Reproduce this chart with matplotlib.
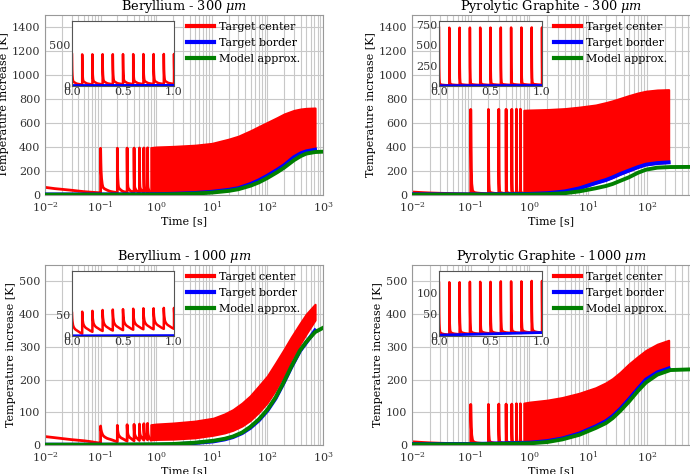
import numpy as np
import matplotlib
matplotlib.use("Agg")
import matplotlib.pyplot as plt
from matplotlib.lines import Line2D

plt.rcParams.update({
    "font.family": ["DejaVu Serif"],
    "mathtext.fontset": "dejavuserif",
})

# ------------------------------------------------------------------ data
titles = ["Beryllium - 300 $\\mu m$", "Pyrolytic Graphite - 300 $\\mu m$",
          "Beryllium - 1000 $\\mu m$", "Pyrolytic Graphite - 1000 $\\mu m$"]
legend_labels = ["Target center", "Target border", "Model approx."]
xlabel = "Time [s]"
ylabel = "Temperature increase [K]"

pulse_t = [0.0, 0.1, 0.2, 0.3, 0.4, 0.5, 0.6, 0.7, 0.8, 0.9, 1.0]
decay_dt = [0.0, 0.001, 0.002, 0.004, 0.007, 0.01, 0.015, 0.02, 0.03,
            0.04, 0.05, 0.065, 0.08, 0.0999]

# Beryllium 300 um
be300_peak = [388, 389, 390, 391, 391, 392, 392, 393, 393, 394, 394]
be300_floor = [18, 20, 21, 22, 23, 24, 24, 25, 25, 26, 26]
be300_decay = [1.0, 0.7, 0.5, 0.32, 0.19, 0.124, 0.095, 0.08, 0.058,
               0.04, 0.027, 0.016, 0.008, 0.0]
be300_band_t = [0.8, 1, 2, 5, 10, 20, 30, 50, 70, 100, 150, 200, 300, 400, 500, 720]
be300_band_hi = [395, 400, 405, 415, 430, 465, 490, 536, 570, 605, 645, 675, 705, 717, 722, 725]
be300_band_lo = [25, 26, 28, 32, 40, 55, 70, 105, 135, 175, 225, 262, 320, 356, 374, 392]
be300_border_t = [0.01, 0.1, 1, 2, 5, 10, 20, 30, 50, 70, 100, 150, 200, 300, 400, 500, 720]
be300_border = [5, 5, 7, 10, 17, 27, 43, 57, 92, 122, 161, 210, 248, 315, 348, 364, 378]
be300_model_t = [0.01, 0.1, 1, 2, 5, 10, 20, 30, 50, 70, 100, 150, 200, 300, 400, 500, 720, 1000]
be300_model = [3, 3, 4, 6, 12, 20, 34, 48, 78, 105, 142, 190, 228, 290, 325, 345, 358, 361]
be300_inset_border = [6, 8]

# Pyrolytic graphite 300 um
pg300_peak = [712, 713, 713, 714, 714, 714, 715, 715, 715, 716, 716]
pg300_floor = [8, 10, 11, 12, 12, 13, 13, 14, 14, 15, 15]
pg300_decay = [1.0, 0.55, 0.3, 0.12, 0.045, 0.024, 0.017, 0.013, 0.009,
               0.007, 0.005, 0.003, 0.0015, 0.0]
pg300_band_t = [0.8, 1, 2, 4, 7, 13.4, 20, 26, 35, 49, 70, 96, 150, 234]
pg300_band_hi = [706, 708, 712, 720, 732, 750, 770, 785, 805, 828, 850, 865, 875, 878]
pg300_band_lo = [8, 9, 15, 30, 55, 100, 125, 147, 175, 203, 232, 253, 266, 272]
pg300_border_t = [0.01, 0.1, 1, 2, 4, 7, 13.4, 20, 26, 35, 49, 70, 96, 150, 234]
pg300_border = [6, 5, 9, 15, 30, 55, 100, 125, 147, 175, 203, 232, 253, 266, 272]
pg300_model_t = [0.01, 0.1, 1, 2, 4, 7, 13.4, 20, 26, 35, 49, 70, 96, 150, 250, 540]
pg300_model = [3, 3, 4, 7, 15, 30, 56, 75, 92, 118, 147, 185, 211, 228, 233, 234]
pg300_inset_border = [4, 6]

# Beryllium 1000 um
be1000_peak = [55, 58, 60, 62, 63, 64, 65, 66, 66, 67, 67]
be1000_floor = [5.5, 10, 12, 13, 14, 15, 16, 16, 17, 17, 18]
be1000_decay = [1.0, 0.85, 0.75, 0.62, 0.5, 0.41, 0.34, 0.29, 0.22,
                0.18, 0.15, 0.1, 0.05, 0.0]
be1000_band_t = [0.8, 1, 2, 5, 10.7, 17, 24, 35, 49, 70, 100, 140, 194, 270, 385, 500, 720]
be1000_band_hi = [62, 64, 67, 73, 82, 95, 108, 128, 150, 180, 211, 250, 289, 330, 371, 400, 430]
be1000_band_lo = [16, 17, 18, 22, 30, 37, 45, 58, 75, 100, 130, 168, 212, 262, 308, 340, 382]
be1000_border_t = [0.01, 0.1, 1, 2, 5, 10.7, 17, 24, 35, 49, 70, 100, 140, 194, 270, 385, 500, 720]
be1000_border = [1, 1, 1, 2, 6, 11, 17, 24, 36, 52, 75, 105, 142, 188, 238, 287, 313, 350]
be1000_model_t = [0.01, 0.1, 1, 2, 5, 10.7, 17, 24, 35, 49, 70, 100, 140, 194, 270, 385, 500, 720, 1000]
be1000_model = [1, 1, 2, 3, 7, 13, 19, 26, 38, 55, 78, 108, 145, 190, 240, 289, 315, 345, 358]
be1000_inset_border = [0.5, 1]

# Pyrolytic graphite 1000 um
pg1000_peak = [123, 124, 124, 125, 125, 125, 126, 126, 126, 127, 127]
pg1000_floor = [3, 4, 5, 5, 6, 6, 7, 7, 8, 8, 9]
pg1000_decay = [1.0, 0.65, 0.42, 0.22, 0.1, 0.057, 0.04, 0.03, 0.02,
                0.015, 0.01, 0.006, 0.003, 0.0]
pg1000_band_t = [0.8, 1, 2, 3.6, 7, 13.4, 20, 26, 35, 49, 70, 96, 150, 234]
pg1000_band_hi = [128, 131, 137, 145, 158, 175, 190, 203, 222, 247, 270, 289, 308, 320]
pg1000_band_lo = [6, 7, 12, 20, 35, 57, 73, 88, 110, 139, 172, 200, 222, 234]
pg1000_border_t = [0.01, 0.1, 1, 2, 3.6, 7, 13.4, 20, 26, 35, 49, 70, 96, 150, 234]
pg1000_border = [3, 3, 7, 12, 20, 35, 57, 73, 88, 110, 139, 172, 200, 222, 234]
pg1000_model_t = [0.01, 0.1, 1, 2, 3.6, 7, 13.4, 20, 26, 35, 49, 70, 96, 150, 250, 540]
pg1000_model = [2, 2, 5, 9, 17, 31, 52, 67, 82, 104, 132, 165, 191, 215, 229, 231]
pg1000_inset_border = [2, 8]

panels = [
    dict(peak=be300_peak, floor=be300_floor, decay=be300_decay,
         band_t=be300_band_t, hi=be300_band_hi, lo=be300_band_lo,
         bt=be300_border_t, b=be300_border, mt=be300_model_t, m=be300_model,
         ib=be300_inset_border),
    dict(peak=pg300_peak, floor=pg300_floor, decay=pg300_decay,
         band_t=pg300_band_t, hi=pg300_band_hi, lo=pg300_band_lo,
         bt=pg300_border_t, b=pg300_border, mt=pg300_model_t, m=pg300_model,
         ib=pg300_inset_border),
    dict(peak=be1000_peak, floor=be1000_floor, decay=be1000_decay,
         band_t=be1000_band_t, hi=be1000_band_hi, lo=be1000_band_lo,
         bt=be1000_border_t, b=be1000_border, mt=be1000_model_t, m=be1000_model,
         ib=be1000_inset_border),
    dict(peak=pg1000_peak, floor=pg1000_floor, decay=pg1000_decay,
         band_t=pg1000_band_t, hi=pg1000_band_hi, lo=pg1000_band_lo,
         bt=pg1000_border_t, b=pg1000_border, mt=pg1000_model_t, m=pg1000_model,
         ib=pg1000_inset_border),
]

# ------------------------------------------------------------------ layout
W, H = 690, 474
fig = plt.figure(figsize=(W / 100, H / 100), dpi=100)


def px_axes(x0, y0, x1, y1):
    return fig.add_axes([x0 / W, 1 - y1 / H, (x1 - x0) / W, (y1 - y0) / H])


main_boxes = [(45, 15, 323, 195), (412, 15, 690, 195),
              (45, 265, 323, 445), (412, 265, 690, 445)]
main_xlim = [(1e-2, 1e3), (1e-2, 540), (1e-2, 1e3), (1e-2, 540)]
inset_boxes = [(72, 21, 174, 86), (439, 21, 542, 86),
               (72, 271, 174, 336), (439, 271, 542, 336)]
main_ylim = [1500, 1500, 550, 550]
main_yticks = [np.arange(0, 1401, 200), np.arange(0, 1401, 200),
               np.arange(0, 501, 100), np.arange(0, 501, 100)]
inset_ylim = [800, 795, 155, 150]
inset_yticks = [[0, 500], [0, 250, 500, 750], [0, 50], [0, 50, 100]]
legend_x = [0.495, 0.495, 0.495, 0.495]

RED, BLUE, GREEN = "#ff0000", "#0000ff", "#008000"
GRID = "#c8c8c8"


def pulse_path(p, n_pulses):
    ts, vs = [], []
    for i in range(n_pulses):
        if i > 0:
            ts.append(pulse_t[i])
            vs.append(p["floor"][i - 1])
        for dt, f in zip(decay_dt, p["decay"]):
            ts.append(pulse_t[i] + dt)
            vs.append(p["floor"][i] + (p["peak"][i] - p["floor"][i]) * f)
    return np.array(ts), np.array(vs)


for k, p in enumerate(panels):
    ax = px_axes(*main_boxes[k])
    ax.set_xscale("log")
    ts, vs = pulse_path(p, 8)
    keep = ts > 0
    ax.plot(ts[keep], vs[keep], color=RED, lw=2, zorder=2)
    ax.fill_between(p["band_t"], p["lo"], p["hi"], color=RED, lw=1.5,
                    edgecolor=RED, zorder=2)
    ax.plot(p["bt"], p["b"], color=BLUE, lw=2.8, zorder=3)
    ax.plot(p["mt"], p["m"], color=GREEN, lw=2.8, zorder=4)

    ax.set_xlim(*main_xlim[k])
    ax.set_ylim(0, main_ylim[k])
    ax.set_yticks(main_yticks[k])
    ax.grid(True, which="major", color=GRID, lw=0.8)
    ax.grid(True, which="minor", axis="x", color=GRID, lw=0.8)
    ax.set_axisbelow(True)
    ax.tick_params(labelsize=8, colors="#333333", which="both", length=0)
    for s in ax.spines.values():
        s.set_color("#999999")
        s.set_linewidth(0.8)
    ax.set_title(titles[k], fontsize=9.3, pad=1.2)
    ax.set_xlabel(xlabel, fontsize=8, labelpad=1)
    ax.set_ylabel(ylabel, fontsize=8, labelpad=2)

    handles = [Line2D([], [], color=c, lw=3) for c in (RED, BLUE, GREEN)]
    ax.legend(handles, legend_labels, loc="upper left",
              bbox_to_anchor=(legend_x[k], 0.985), borderaxespad=0,
              frameon=False, fontsize=8, handlelength=2.4,
              handletextpad=0.5, labelspacing=0.55)

    ins = px_axes(*inset_boxes[k])
    ts, vs = pulse_path(p, 11)
    ins.plot(ts, vs, color=RED, lw=1.8)
    ins.plot([0, 1], p["ib"], color=BLUE, lw=2)
    ins.set_xlim(0, 1)
    ins.set_ylim(0, inset_ylim[k])
    ins.set_xticks([0.0, 0.5, 1.0])
    ins.set_xticklabels(["0.0", "0.5", "1.0"])
    ins.set_yticks(inset_yticks[k])
    ins.tick_params(labelsize=8, colors="#333333", length=0, pad=1)
    for s in ins.spines.values():
        s.set_color("#555555")
        s.set_linewidth(0.8)

fig.savefig("out.png", dpi=100)
